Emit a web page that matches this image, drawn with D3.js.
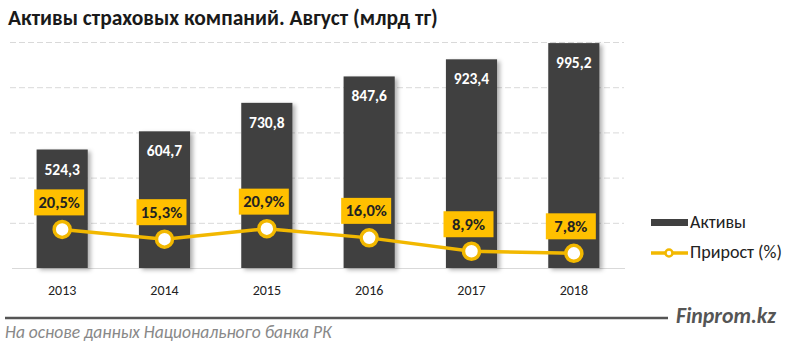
<!DOCTYPE html>
<html><head><meta charset="utf-8">
<script src="https://cdn.jsdelivr.net/npm/d3@7"></script>
<style>
body{margin:0;background:#fff;}
svg{display:block;font-family:Calibri,Carlito,Lato,sans-serif;}
</style></head>
<body><svg id="c" width="800" height="346"></svg>
<script>
const years = ["2013","2014","2015","2016","2017","2018"];
const assets = [524.3, 604.7, 730.8, 847.6, 923.4, 995.2];
const growth = [20.5, 15.3, 20.9, 16.0, 8.9, 7.8];
const yTicks = [0, 200, 400, 600, 800, 1000];
const title = "Активы страховых компаний. Август (млрд тг)";
const source = "На основе данных Национального  банка РК";
const brand = "Finprom.kz";
const legendLabels = ["Активы", "Прирост (%)"];

const svg = d3.select("#c");
const fmt = v => d3.format(".1f")(v).replace(".", ",");

const x = d3.scaleBand().domain(years).range([11, 625]).paddingInner(0.5).paddingOuter(0.25);
const y = d3.scaleLinear().domain([0, 1000]).range([268, 42]);
const y2 = d3.scaleLinear().domain([0, 120]).range([268, 42]);

function fit(sel, w){
  const n = sel.node(); const cur = n.getComputedTextLength();
  const fs = parseFloat(sel.attr("font-size"));
  sel.attr("font-size", fs * w / cur);
}

const defs = svg.append("defs");
const f = defs.append("filter").attr("id","sh").attr("x","-20%").attr("y","-20%").attr("width","150%").attr("height","150%");
f.append("feDropShadow").attr("dx",3).attr("dy",2).attr("stdDeviation",2).attr("flood-color","#000").attr("flood-opacity",0.3);

const t = svg.append("text").attr("x",8).attr("y",25).attr("font-size",19).attr("font-weight","bold").attr("fill","#1a1a1a").text(title);
fit(t, 430);

svg.append("g").selectAll("line").data(yTicks.slice(1)).join("line")
  .attr("x1",10).attr("x2",624).attr("y1",d=>y(d)+0.5).attr("y2",d=>y(d)+0.5)
  .attr("stroke","#d9d9d9").attr("stroke-width",1).attr("stroke-dasharray","6,3");
svg.append("line").attr("x1",12).attr("x2",625).attr("y1",y(0)+0.5).attr("y2",y(0)+0.5).attr("stroke","#d9d9d9").attr("stroke-width",1.2);

svg.append("g").selectAll("rect").data(assets).join("rect")
  .attr("x",(d,i)=>x(years[i])).attr("width",x.bandwidth())
  .attr("y",d=>y(d)).attr("height",d=>y(0)-y(d))
  .attr("fill","#404040").attr("filter","url(#sh)");

svg.append("g").selectAll("text").data(assets).join("text")
  .attr("x",(d,i)=>x(years[i])+x.bandwidth()/2).attr("y",d=>y(d)+25)
  .attr("text-anchor","middle").attr("font-size",15.5).attr("font-weight","bold").attr("fill","#fff")
  .text(fmt);

svg.append("g").selectAll("text").data(years).join("text")
  .attr("x",d=>x(d)+x.bandwidth()/2).attr("y",295).attr("text-anchor","middle")
  .attr("font-size",14).attr("fill","#222").text(d=>d);

const cx = (i)=>x(years[i])+x.bandwidth()/2;
const line = d3.line().x((d,i)=>cx(i)).y(d=>y2(d));
svg.append("path").datum(growth).attr("d",line).attr("fill","none").attr("stroke","#F2B800").attr("stroke-width",3.5);

const lg = svg.append("g").selectAll("g").data(growth).join("g")
  .attr("transform",(d,i)=>`translate(${cx(i)-3},${y2(d)-27})`);
lg.append("rect").attr("x",-25).attr("y",-13).attr("width",50).attr("height",26).attr("fill","#FFC000");
lg.append("text").attr("y",5.5).attr("text-anchor","middle").attr("font-size",16.5).attr("font-weight","bold").attr("fill","#222")
  .text(d=>fmt(d)+"%");

svg.append("g").selectAll("circle").data(growth).join("circle")
  .attr("cx",(d,i)=>cx(i)).attr("cy",d=>y2(d)).attr("r",8)
  .attr("fill","#fff").attr("stroke","#F2B800").attr("stroke-width",3.5);

svg.append("rect").attr("x",651).attr("y",219).attr("width",37).attr("height",7).attr("fill","#404040");
const l1 = svg.append("text").attr("x",690).attr("y",228).attr("font-size",16).attr("fill","#222").text(legendLabels[0]);
fit(l1, 56);
svg.append("line").attr("x1",651).attr("x2",688).attr("y1",253).attr("y2",253).attr("stroke","#F2B800").attr("stroke-width",3.5);
svg.append("circle").attr("cx",669).attr("cy",253).attr("r",3.5).attr("fill","#fff").attr("stroke","#F2B800").attr("stroke-width",2.5);
const l2 = svg.append("text").attr("x",690).attr("y",258).attr("font-size",16).attr("fill","#222").text(legendLabels[1]);
fit(l2, 92);

svg.append("line").attr("x1",5).attr("x2",668).attr("y1",318).attr("y2",318).attr("stroke","#555").attr("stroke-width",2.5);
const b = svg.append("text").attr("x",676).attr("y",323).attr("font-size",19).attr("font-weight","bold").attr("font-style","italic").attr("fill","#555").text(brand);
fit(b, 100);
const s = svg.append("text").attr("x",5).attr("y",338).attr("font-size",13).attr("font-style","italic").attr("fill","#888").text(source);
fit(s, 327);
</script></body></html>
